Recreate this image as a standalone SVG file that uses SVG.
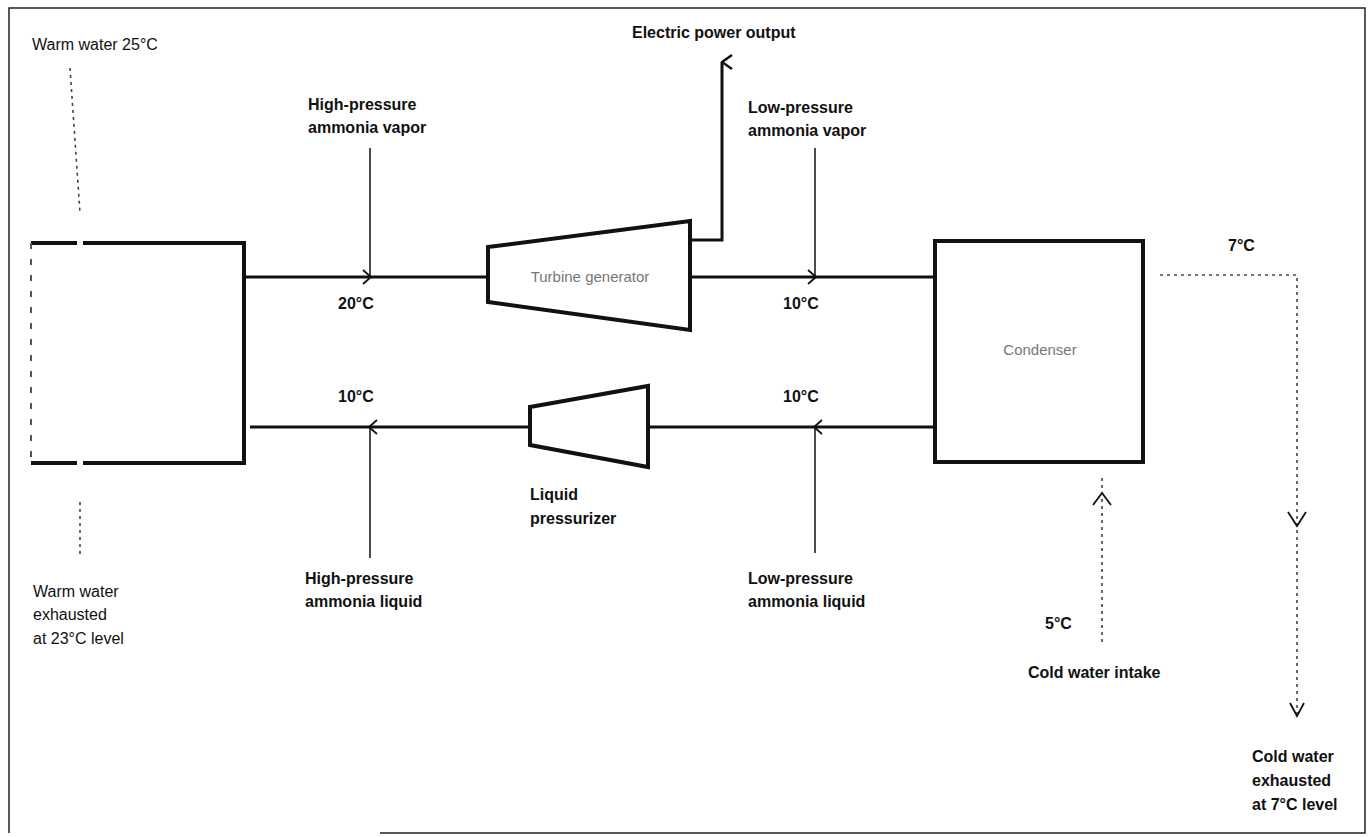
<svg xmlns="http://www.w3.org/2000/svg" width="1372" height="837" viewBox="0 0 1372 837">
<style>
.frame{fill:none;stroke:#222;stroke-width:1.5}
.box{fill:#fff;stroke:#111;stroke-width:4}
.pipe{fill:none;stroke:#111;stroke-width:3}
.tick{fill:none;stroke:#111;stroke-width:1.5}
.water{fill:none;stroke:#444;stroke-width:1.6;stroke-dasharray:3 4}
.chev{fill:none;stroke:#111;stroke-width:1.8}
.lbl{font-family:"Liberation Sans",Arial,sans-serif;font-size:16px;font-weight:bold;fill:#111}
.reg{font-family:"Liberation Sans",Arial,sans-serif;font-size:16px;fill:#111}
.faint{font-family:"Liberation Sans",Arial,sans-serif;font-size:15px;fill:#777}
</style>
<defs>
<marker id="up" markerWidth="16" markerHeight="16" refX="8" refY="1" orient="auto-start-reverse" markerUnits="userSpaceOnUse">
<path d="M1,11 L8,1 L15,11" fill="none" stroke="#111" stroke-width="2.5"/>
</marker>
</defs>
<rect width="1372" height="837" fill="#fff"/>
<g id="frame">
<path class="frame" d="M9,833 V8 H1365 V833 H380"/>
</g>
<g id="evaporator">
<path class="box" d="M31,243 H77 M83,243 H244 V463 H83 M77,463 H31"/>
<path d="M31,243 V463" stroke="#555" stroke-width="2" stroke-dasharray="6 10" fill="none"/>
</g>
<g id="turbine">
<polygon class="box" points="488,247 690,221 690,330 488,302"/>
<text class="faint" x="590" y="282" text-anchor="middle">Turbine generator</text>
</g>
<g id="pressurizer">
<polygon class="box" points="530,407 648,386 648,467 530,445"/>
</g>
<g id="condenser">
<rect class="box" x="935" y="241" width="208" height="221"/>
<text class="faint" x="1040" y="355" text-anchor="middle" fill="#bbb">Condenser</text>
</g>
<g id="connectors">
<line class="pipe" x1="244" y1="277" x2="488" y2="277"/>
<line class="pipe" x1="690" y1="277" x2="935" y2="277"/>
<line class="pipe" x1="250" y1="427" x2="530" y2="427"/>
<line class="pipe" x1="648" y1="427" x2="935" y2="427"/>
<path class="chev" d="M363,270 L371,277 L363,284"/>
<path class="chev" d="M808,270 L816,277 L808,284"/>
<path class="chev" d="M377,420 L369,427 L377,434"/>
<path class="chev" d="M822,420 L814,427 L822,434"/>
<line class="tick" x1="370" y1="148" x2="370" y2="277"/>
<line class="tick" x1="815" y1="148" x2="815" y2="277"/>
<line class="tick" x1="370" y1="427" x2="370" y2="558"/>
<line class="tick" x1="815" y1="427" x2="815" y2="553"/>
<path class="pipe" d="M690,240 H722 V62" stroke-width="2.5" marker-end="url(#up)"/>
<path class="water" d="M70,68 L80,213"/>
<path class="water" d="M80,502 V555"/>
<path class="water" d="M1102,478 V645"/>
<path class="chev" d="M1093,505 L1102,493 L1111,505" stroke="#444"/>
<path class="water" d="M1160,275 H1297 V718"/>
<path class="chev" d="M1288,512 L1297,526 L1306,512"/>
<path class="chev" d="M1290,703 L1297,716 L1304,703" stroke="#555"/>
</g>
<g id="labels">
<text class="reg" x="32" y="50">Warm water 25°C</text>
<text class="reg" x="33" y="597">Warm water</text>
<text class="reg" x="33" y="620">exhausted</text>
<text class="reg" x="33" y="644">at 23°C level</text>
<text class="lbl" x="632" y="38" font-size="17">Electric power output</text>
<text class="lbl" x="308" y="110">High-pressure</text>
<text class="lbl" x="308" y="133">ammonia vapor</text>
<text class="lbl" x="748" y="113">Low-pressure</text>
<text class="lbl" x="748" y="136">ammonia vapor</text>
<text class="lbl" x="338" y="309">20°C</text>
<text class="lbl" x="783" y="309">10°C</text>
<text class="lbl" x="1228" y="251">7°C</text>
<text class="lbl" x="338" y="402">10°C</text>
<text class="lbl" x="783" y="402">10°C</text>
<text class="lbl" x="530" y="500">Liquid</text>
<text class="lbl" x="530" y="524">pressurizer</text>
<text class="lbl" x="305" y="584">High-pressure</text>
<text class="lbl" x="305" y="607">ammonia liquid</text>
<text class="lbl" x="748" y="584">Low-pressure</text>
<text class="lbl" x="748" y="607">ammonia liquid</text>
<text class="lbl" x="1045" y="629">5°C</text>
<text class="lbl" x="1028" y="678">Cold water intake</text>
<text class="lbl" x="1252" y="762">Cold water</text>
<text class="lbl" x="1252" y="786">exhausted</text>
<text class="lbl" x="1252" y="810">at 7°C level</text>
</g>
</svg>
